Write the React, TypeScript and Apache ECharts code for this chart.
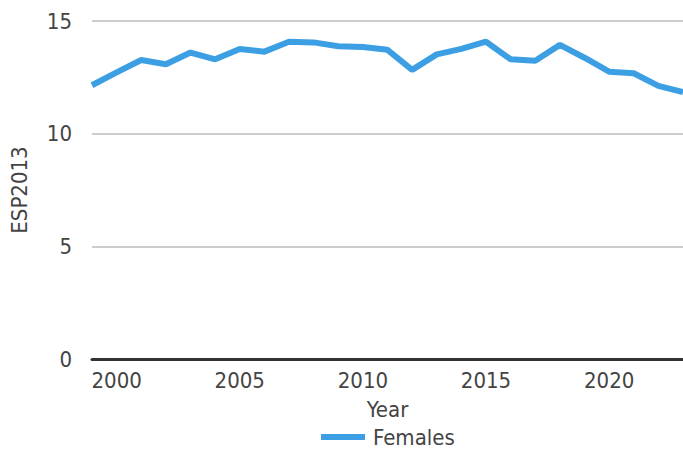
import React, { useEffect, useRef } from "react";
import * as echarts from "echarts";

const years = [
  "1999", "2000", "2001", "2002", "2003", "2004", "2005", "2006", "2007", "2008",
  "2009", "2010", "2011", "2012", "2013", "2014", "2015", "2016", "2017", "2018",
  "2019", "2020", "2021", "2022", "2023",
];
const females = [
  12.15, 12.72, 13.27, 13.08, 13.6, 13.3, 13.76, 13.64, 14.08, 14.05,
  13.88, 13.85, 13.72, 12.83, 13.52, 13.76, 14.08, 13.3, 13.24, 13.94,
  13.37, 12.75, 12.68, 12.12, 11.84,
];
const yTicks = { min: 0, max: 15, interval: 5 };

const FONT = "DejaVu Sans Condensed";
const TEXT = "#444444";

export default function App() {
  const ref = useRef<HTMLDivElement>(null);
  useEffect(() => {
    if (!ref.current) return;
    const chart = echarts.init(ref.current, null, { renderer: "svg" });
    chart.setOption({
      animation: false,
      textStyle: { fontFamily: FONT },
      grid: { left: 90, right: -2, top: 21, bottom: 91, containLabel: false },
      legend: {
        top: 424,
        left: 321,
        padding: 0,
        itemWidth: 44,
        itemHeight: 6,
        itemGap: 8,
        icon: "rect",
        textStyle: { fontFamily: FONT, fontSize: 22, color: TEXT, lineHeight: 26, padding: [0, 0, 0, 3] },
        data: ["Females"],
      },
      xAxis: {
        type: "category",
        data: years,
        boundaryGap: false,
        name: "Year",
        nameLocation: "middle",
        nameGap: 39,
        nameTextStyle: { fontFamily: FONT, fontSize: 22, color: TEXT },
        axisLine: { show: true, lineStyle: { color: "#333333", width: 3 } },
        axisTick: { show: false },
        axisLabel: {
          interval: (_i: number, v: string) => Number(v) % 5 === 0,
          fontFamily: FONT,
          fontSize: 22,
          color: TEXT,
          margin: 10,
        },
        splitLine: { show: false },
      },
      yAxis: {
        type: "value",
        min: yTicks.min,
        max: yTicks.max,
        interval: yTicks.interval,
        name: "ESP2013",
        nameLocation: "middle",
        nameGap: 62,
        nameTextStyle: { fontFamily: FONT, fontSize: 22, color: TEXT },
        axisLine: { show: false },
        axisTick: { show: false },
        axisLabel: { fontFamily: FONT, fontSize: 22, color: TEXT, margin: 20 },
        splitLine: { show: true, lineStyle: { color: "#cccccc", width: 2 } },
      },
      series: [
        {
          name: "Females",
          type: "line",
          data: females,
          showSymbol: false,
          symbol: "none",
          lineStyle: { color: "#3d9fe3", width: 6 },
          itemStyle: { color: "#3d9fe3" },
          z: 3,
        },
      ],
    });
    return () => chart.dispose();
  }, []);
  return (
    <div
      ref={ref}
      style={{ width: 683, height: 450, position: "absolute", left: 0, top: 0 }}
    />
  );
}
